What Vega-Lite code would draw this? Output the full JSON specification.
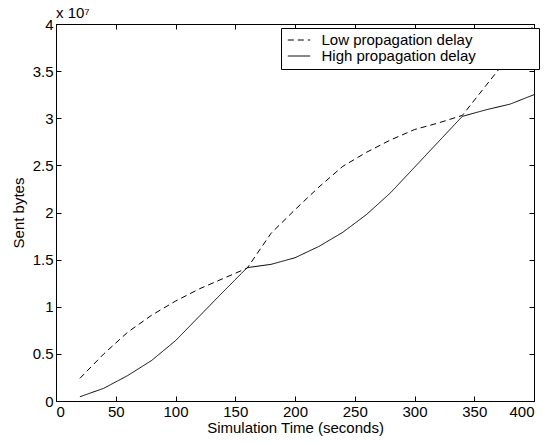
{
  "$schema": "https://vega.github.io/schema/vega-lite/v6.json",
  "width": 478,
  "height": 377,
  "autosize": {"type": "none"},
  "padding": {"left": 56, "top": 24, "right": 11, "bottom": 42},
  "background": "white",
  "title": {"text": "x 10⁷", "anchor": "start", "frame": "group", "baseline": "alphabetic", "offset": 5, "dy": 21, "fontSize": 15, "fontWeight": "normal", "font": "Liberation Sans", "color": "black"},
  "config": {
    "view": {"stroke": "black", "strokeWidth": 1},
    "font": "Liberation Sans",
    "axis": {
      "grid": false,
      "domainColor": "black",
      "tickColor": "black",
      "tickSize": -5,
      "minExtent": 0,
      "labelColor": "black",
      "labelFontSize": 15,
      "labelFont": "Liberation Sans",
      "titleColor": "black",
      "titleFontSize": 15,
      "titleFontWeight": "normal",
      "titleFont": "Liberation Sans"
    }
  },
  "data": {"values": [
    {"time": 20, "bytes": 2400000, "series": "Low propagation delay"},
    {"time": 40, "bytes": 5000000, "series": "Low propagation delay"},
    {"time": 60, "bytes": 7300000, "series": "Low propagation delay"},
    {"time": 80, "bytes": 9100000, "series": "Low propagation delay"},
    {"time": 100, "bytes": 10600000, "series": "Low propagation delay"},
    {"time": 120, "bytes": 11900000, "series": "Low propagation delay"},
    {"time": 140, "bytes": 13000000, "series": "Low propagation delay"},
    {"time": 160, "bytes": 14100000, "series": "Low propagation delay"},
    {"time": 180, "bytes": 17800000, "series": "Low propagation delay"},
    {"time": 200, "bytes": 20300000, "series": "Low propagation delay"},
    {"time": 220, "bytes": 22700000, "series": "Low propagation delay"},
    {"time": 240, "bytes": 24900000, "series": "Low propagation delay"},
    {"time": 260, "bytes": 26400000, "series": "Low propagation delay"},
    {"time": 280, "bytes": 27700000, "series": "Low propagation delay"},
    {"time": 300, "bytes": 28800000, "series": "Low propagation delay"},
    {"time": 320, "bytes": 29500000, "series": "Low propagation delay"},
    {"time": 340, "bytes": 30300000, "series": "Low propagation delay"},
    {"time": 360, "bytes": 33500000, "series": "Low propagation delay"},
    {"time": 380, "bytes": 36700000, "series": "Low propagation delay"},
    {"time": 400, "bytes": 39900000, "series": "Low propagation delay"},
    {"time": 20, "bytes": 450000, "series": "High propagation delay"},
    {"time": 40, "bytes": 1350000, "series": "High propagation delay"},
    {"time": 60, "bytes": 2700000, "series": "High propagation delay"},
    {"time": 80, "bytes": 4300000, "series": "High propagation delay"},
    {"time": 100, "bytes": 6400000, "series": "High propagation delay"},
    {"time": 120, "bytes": 9000000, "series": "High propagation delay"},
    {"time": 140, "bytes": 11600000, "series": "High propagation delay"},
    {"time": 160, "bytes": 14150000, "series": "High propagation delay"},
    {"time": 180, "bytes": 14500000, "series": "High propagation delay"},
    {"time": 200, "bytes": 15200000, "series": "High propagation delay"},
    {"time": 220, "bytes": 16400000, "series": "High propagation delay"},
    {"time": 240, "bytes": 17900000, "series": "High propagation delay"},
    {"time": 260, "bytes": 19800000, "series": "High propagation delay"},
    {"time": 280, "bytes": 22100000, "series": "High propagation delay"},
    {"time": 300, "bytes": 24800000, "series": "High propagation delay"},
    {"time": 320, "bytes": 27500000, "series": "High propagation delay"},
    {"time": 340, "bytes": 30200000, "series": "High propagation delay"},
    {"time": 360, "bytes": 30900000, "series": "High propagation delay"},
    {"time": 380, "bytes": 31500000, "series": "High propagation delay"},
    {"time": 400, "bytes": 32500000, "series": "High propagation delay"}
  ]},
  "layer": [
    {
      "mark": {"type": "line", "color": "black", "strokeWidth": 1, "clip": true},
      "encoding": {
        "x": {"field": "time", "type": "quantitative", "scale": {"domain": [0, 400], "nice": false},
              "axis": {"orient": "bottom", "values": [0, 50, 100, 150, 200, 250, 300, 350, 400], "title": "Simulation Time (seconds)", "labelPadding": 8, "titlePadding": 1}},
        "y": {"field": "bytes", "type": "quantitative", "scale": {"domain": [0, 40000000], "nice": false},
              "axis": {"orient": "left", "values": [0, 5000000, 10000000, 15000000, 20000000, 25000000, 30000000, 35000000, 40000000], "labelExpr": "format(datum.value / 10000000, '~g')", "title": "Sent bytes", "labelPadding": 8, "titlePadding": 6}},
        "strokeDash": {"field": "series", "type": "nominal",
          "scale": {"domain": ["Low propagation delay", "High propagation delay"], "range": [[6, 4], [1, 0]]},
          "legend": {"orient": "none", "legendX": 225, "legendY": 4, "title": null, "strokeColor": "black", "fillColor": "white", "padding": 4.5, "symbolType": "M-1.6,0H1.6", "symbolSize": 196, "symbolOffset": 6, "symbolStrokeWidth": 1, "symbolStrokeColor": "black", "labelFontSize": 15, "labelColor": "black", "labelFont": "Liberation Sans", "labelOffset": 15, "labelLimit": 400, "rowPadding": 0, "labelExpr": "datum.label + '\u00a0\u00a0\u00a0\u00a0\u00a0\u00a0\u00a0\u00a0\u00a0\u00a0\u00a0\u00a0\u00a0\u00a0\u200b'"}}
      }
    },
    {
      "mark": {"type": "line", "opacity": 0},
      "encoding": {
        "x": {"field": "time", "type": "quantitative", "axis": {"orient": "top", "values": [0, 50, 100, 150, 200, 250, 300, 350, 400], "labels": false, "title": null, "maxExtent": 0}},
        "y": {"field": "bytes", "type": "quantitative", "axis": {"orient": "right", "values": [0, 5000000, 10000000, 15000000, 20000000, 25000000, 30000000, 35000000, 40000000], "labels": false, "title": null, "maxExtent": 0}},
        "detail": {"field": "series", "type": "nominal"}
      }
    }
  ]
}
